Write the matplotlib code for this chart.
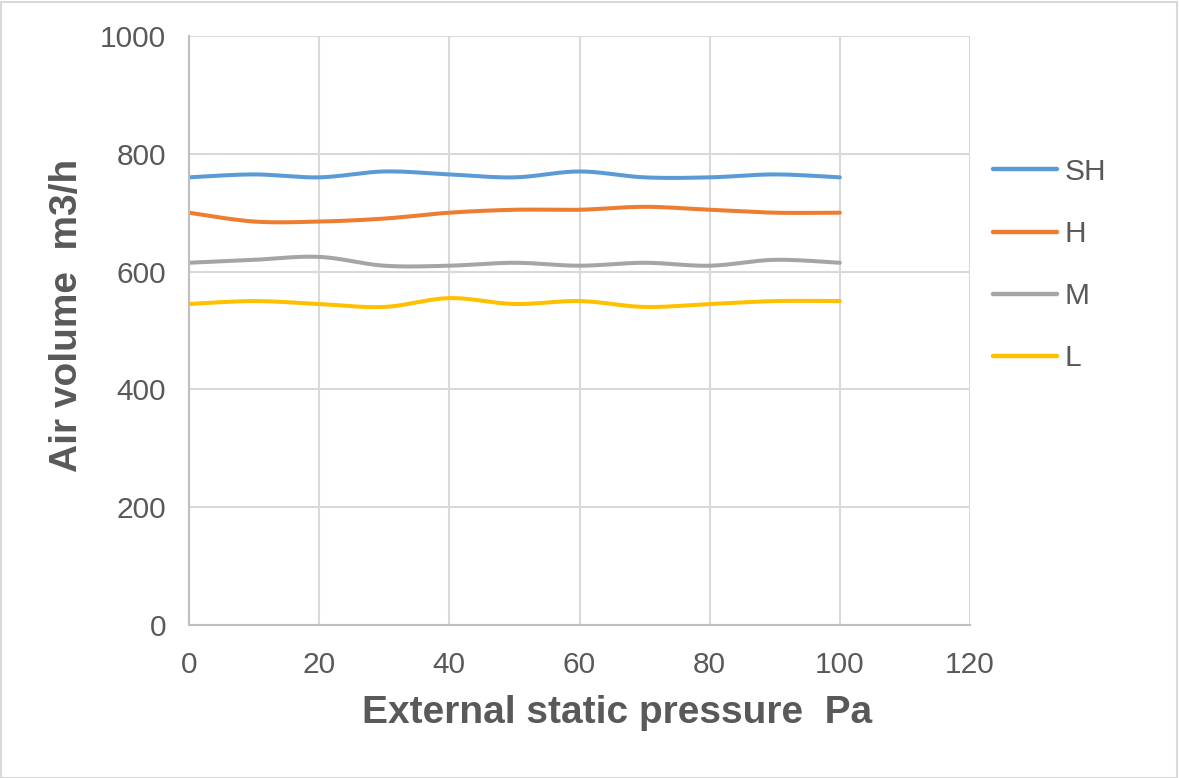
import numpy as np
import matplotlib
matplotlib.use("Agg")
import matplotlib.pyplot as plt
from matplotlib.patches import Rectangle

pressure = [0, 10, 20, 30, 40, 50, 60, 70, 80, 90, 100]
sh = [760, 765, 760, 770, 765, 760, 770, 760, 760, 765, 760]
h = [700, 685, 685, 690, 700, 705, 705, 710, 705, 700, 700]
m = [615, 620, 625, 610, 610, 615, 610, 615, 610, 620, 615]
l = [545, 550, 545, 540, 555, 545, 550, 540, 545, 550, 550]
series_names = ["SH", "H", "M", "L"]
series_colors = ["#5B9BD5", "#ED7D31", "#A5A5A5", "#FFC000"]
x_ticks = [0, 20, 40, 60, 80, 100, 120]
y_ticks = [0, 200, 400, 600, 800, 1000]

plt.rcParams['font.family'] = ['Liberation Sans', 'DejaVu Sans']
TXT = "#595959"


def smooth(x, y, n=20, t=1/6):
    """Excel-like smoothing: cubic Bezier through points (Catmull-Rom)."""
    x = np.asarray(x, float)
    y = np.asarray(y, float)
    pts = np.column_stack([x, y])
    out = []
    N = len(pts)
    for i in range(N - 1):
        p0 = pts[i - 1] if i > 0 else pts[i]
        p1 = pts[i]
        p2 = pts[i + 1]
        p3 = pts[i + 2] if i + 2 < N else pts[i + 1]
        c1 = p1 + (p2 - p0) * t
        c2 = p2 - (p3 - p1) * t
        s = np.linspace(0, 1, n)[:, None]
        seg = ((1 - s) ** 3) * p1 + 3 * ((1 - s) ** 2) * s * c1 + 3 * (1 - s) * s ** 2 * c2 + s ** 3 * p2
        if i > 0:
            seg = seg[1:]
        out.append(seg)
    arr = np.vstack(out)
    return arr[:, 0], arr[:, 1]


W, H = 1179, 778
fig = plt.figure(figsize=(W / 100, H / 100), dpi=100)
fig.patches.append(Rectangle((0.5 / W, 0.5 / H), 1 - 2.5 / W, 1 - 2.5 / H, transform=fig.transFigure,
                             fill=False, edgecolor="#D9D9D9", linewidth=1.5))

left, right, top, bottom = 189, 970, 36, 625
ax = fig.add_axes([left / W, 1 - bottom / H, (right - left) / W, (bottom - top) / H])

for name, vals, col in zip(series_names, [sh, h, m, l], series_colors):
    xs, ys = smooth(pressure, vals)
    ax.plot(xs, ys, color=col, linewidth=2.9, solid_capstyle='round', label=name)

ax.set_xlim(x_ticks[0], x_ticks[-1])
ax.set_ylim(y_ticks[0], y_ticks[-1])
ax.set_xticks(x_ticks)
ax.set_yticks(y_ticks)
ax.grid(True, color="#D9D9D9", linewidth=1.5)
ax.set_axisbelow(True)
for s in ['top', 'right']:
    ax.spines[s].set_visible(False)
for s in ['left', 'bottom']:
    ax.spines[s].set_color("#BFBFBF")
    ax.spines[s].set_linewidth(1.5)
ax.tick_params(length=0, labelsize=21.5, labelcolor=TXT)
ax.tick_params(axis='x', pad=19)
ax.tick_params(axis='y', pad=16.5)

fig.text(617 / W, 1 - 713 / H, "External static pressure  Pa", fontsize=28, fontweight='bold',
         color=TXT, ha='center', va='center')
fig.text(67 / W, 1 - 315 / H, "Air volume  m3/h", fontsize=28, fontweight='bold',
         color=TXT, ha='center', va='center', rotation=90)

leg = ax.legend(loc='center left', bbox_to_anchor=(993 / W, 1 - 265 / H), bbox_transform=fig.transFigure,
                frameon=False, fontsize=21.5, handlelength=2.14, handletextpad=0.27, labelspacing=1.14,
                borderpad=0, borderaxespad=0)
for t in leg.get_texts():
    t.set_color(TXT)
for ln in leg.get_lines():
    ln.set_linewidth(3.2)

fig.savefig("out.png", dpi=100)
